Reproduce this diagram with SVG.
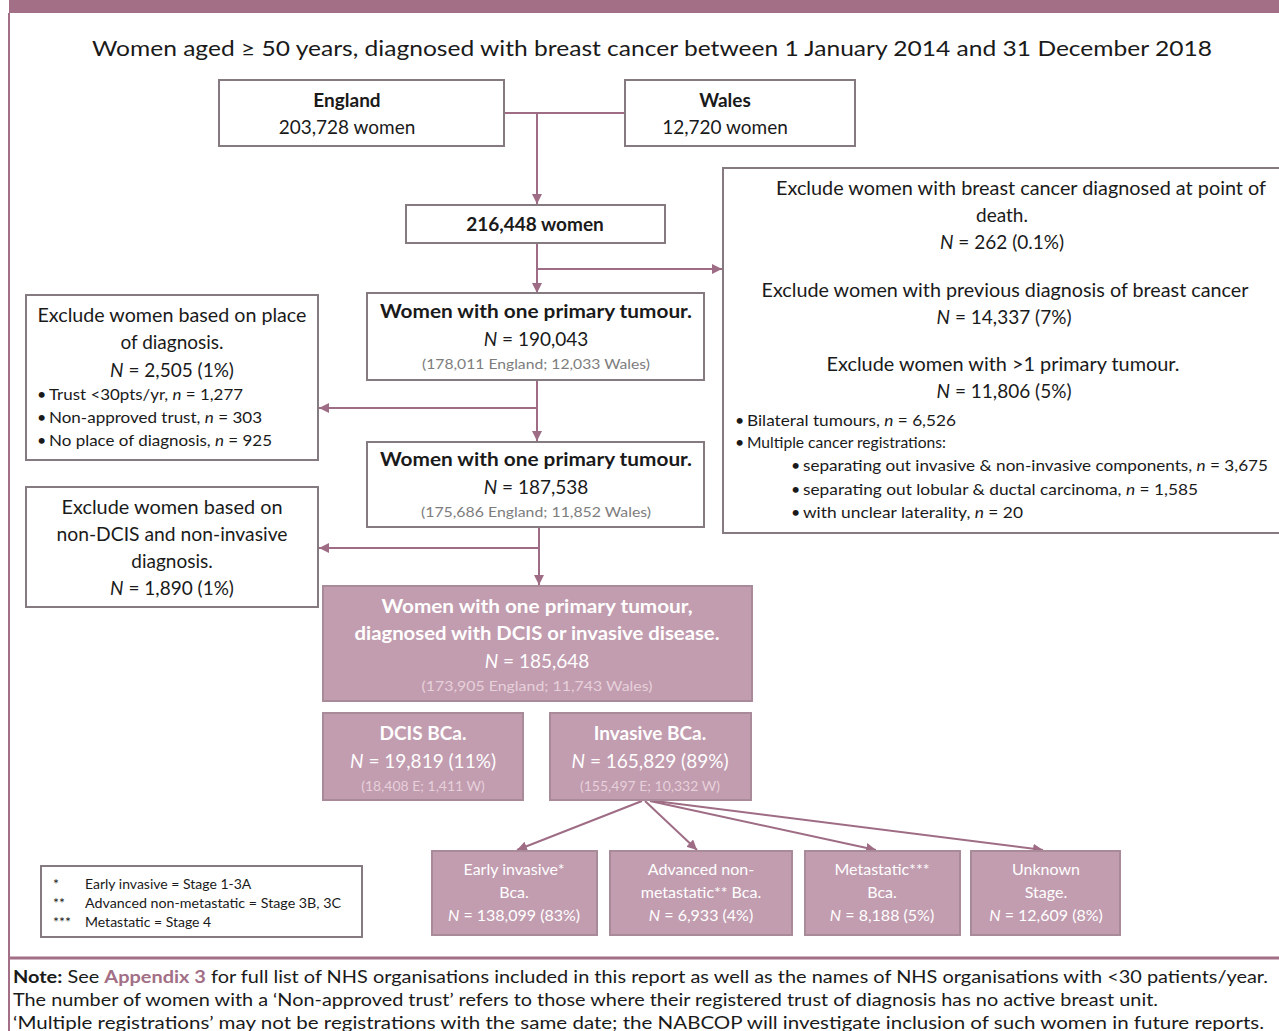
<svg xmlns="http://www.w3.org/2000/svg" width="1279" height="1031" viewBox="0 0 1279 1031">
<defs>
<marker id="ah" markerUnits="userSpaceOnUse" markerWidth="10" markerHeight="10" viewBox="0 0 10 10" refX="10" refY="5" orient="auto">
<path d="M0,0 L10,5 L0,10 Z" fill="#9E6C84"/>
</marker>
<style>
text{font-family:Lato,"Open Sans","Liberation Sans",sans-serif;fill:#1a1a1a}
.box{fill:#fff;stroke:#857a80;stroke-width:2}
.pbox{fill:#C29CAF;stroke:#A88A99;stroke-width:2}
.c{text-anchor:middle}
.t19{font-size:19px}
.b{font-weight:bold}
.g{fill:#7d7d7d;font-size:14px}
.w{fill:#fff}
.wg{fill:#E6D1DB;font-size:14px}
.s16{font-size:16px}
.s13{font-size:14px}
.i{font-style:italic}
.conn{stroke:#9E6C84;stroke-width:2;fill:none}
</style>
</defs>
<rect x="9" y="0" width="1270" height="13" fill="#A26F86"/>
<line x1="9" y1="13" x2="9" y2="1031" stroke="#A26F86" stroke-width="2"/>
<line x1="9" y1="958" x2="1279" y2="958" stroke="#A26F86" stroke-width="3"/>
<text x="652" y="56" class="c" font-size="21" textLength="1120" lengthAdjust="spacingAndGlyphs">Women aged ≥ 50 years, diagnosed with breast cancer between 1 January 2014 and 31 December 2018</text>

<g id="connectors">
<line class="conn" x1="504" y1="113" x2="625" y2="113"/>
<line class="conn" x1="537" y1="113" x2="537" y2="204" marker-end="url(#ah)"/>
<line class="conn" x1="537" y1="243" x2="537" y2="293" marker-end="url(#ah)"/>
<line class="conn" x1="537" y1="269" x2="722" y2="269" marker-end="url(#ah)"/>
<line class="conn" x1="537" y1="380" x2="537" y2="441" marker-end="url(#ah)"/>
<line class="conn" x1="537" y1="408" x2="319" y2="408" marker-end="url(#ah)"/>
<line class="conn" x1="539" y1="527" x2="539" y2="585" marker-end="url(#ah)"/>
<line class="conn" x1="539" y1="548" x2="319" y2="548" marker-end="url(#ah)"/>
<line class="conn" x1="642" y1="801" x2="517" y2="850" marker-end="url(#ah)"/>
<line class="conn" x1="645" y1="801" x2="697" y2="850" marker-end="url(#ah)"/>
<line class="conn" x1="650" y1="801" x2="876" y2="850" marker-end="url(#ah)"/>
<line class="conn" x1="655" y1="801" x2="1043" y2="850" marker-end="url(#ah)"/>
</g>

<g id="england">
<rect class="box" x="219" y="80" width="285" height="66"/>
<text x="347" y="107" class="c t19 b">England</text>
<text x="347" y="134" class="c t19">203,728 women</text>
</g>
<g id="wales">
<rect class="box" x="625" y="80" width="230" height="66"/>
<text x="725" y="107" class="c t19 b">Wales</text>
<text x="725" y="134" class="c t19">12,720 women</text>
</g>
<g id="total">
<rect class="box" x="406" y="205" width="259" height="38"/>
<text x="535" y="231" class="c t19 b">216,448 women</text>
</g>

<g id="exclude-right">
<rect class="box" x="723" y="168" width="570" height="365"/>
<text x="1021" y="195" class="c t19" textLength="490" lengthAdjust="spacingAndGlyphs">Exclude women with breast cancer diagnosed at point of</text>
<text x="1002" y="222" class="c t19">death.</text>
<text x="1002" y="249" class="c t19"><tspan class="i">N</tspan> = 262 (0.1%)</text>
<text x="1005" y="297" class="c t19" textLength="487" lengthAdjust="spacingAndGlyphs">Exclude women with previous diagnosis of breast cancer</text>
<text x="1004" y="324" class="c t19"><tspan class="i">N</tspan> = 14,337 (7%)</text>
<text x="1003" y="371" class="c t19" textLength="353" lengthAdjust="spacingAndGlyphs">Exclude women with &gt;1 primary tumour.</text>
<text x="1004" y="398" class="c t19"><tspan class="i">N</tspan> = 11,806 (5%)</text>
<text x="735" y="426" class="s16">•</text>
<text x="747" y="426" class="s16" textLength="209" lengthAdjust="spacingAndGlyphs">Bilateral tumours, <tspan class="i">n</tspan> = 6,526</text>
<text x="735" y="448" class="s16">•</text>
<text x="747" y="448" class="s16" textLength="199" lengthAdjust="spacingAndGlyphs">Multiple cancer registrations:</text>
<text x="791" y="471" class="s16">•</text>
<text x="803" y="471" class="s16" textLength="465" lengthAdjust="spacingAndGlyphs">separating out invasive &amp; non-invasive components, <tspan class="i">n</tspan> = 3,675</text>
<text x="791" y="495" class="s16">•</text>
<text x="803" y="495" class="s16" textLength="395" lengthAdjust="spacingAndGlyphs">separating out lobular &amp; ductal carcinoma, <tspan class="i">n</tspan> = 1,585</text>
<text x="791" y="518" class="s16">•</text>
<text x="803" y="518" class="s16" textLength="220" lengthAdjust="spacingAndGlyphs">with unclear laterality, <tspan class="i">n</tspan> = 20</text>
</g>

<g id="one-tumour-1">
<rect class="box" x="367" y="293" width="337" height="87"/>
<text x="536" y="318" class="c t19 b" textLength="312" lengthAdjust="spacingAndGlyphs">Women with one primary tumour.</text>
<text x="536" y="346" class="c t19"><tspan class="i">N</tspan> = 190,043</text>
<text x="536" y="369" class="c g" textLength="228" lengthAdjust="spacingAndGlyphs">(178,011 England; 12,033 Wales)</text>
</g>

<g id="exclude-place">
<rect class="box" x="26" y="295" width="292" height="165"/>
<text x="172" y="322" class="c t19" textLength="269" lengthAdjust="spacingAndGlyphs">Exclude women based on place</text>
<text x="172" y="349" class="c t19">of diagnosis.</text>
<text x="172" y="377" class="c t19"><tspan class="i">N</tspan> = 2,505 (1%)</text>
<text x="37" y="400" class="s16">•</text>
<text x="49" y="400" class="s16" textLength="194" lengthAdjust="spacingAndGlyphs">Trust &lt;30pts/yr, <tspan class="i">n</tspan> = 1,277</text>
<text x="37" y="423" class="s16">•</text>
<text x="49" y="423" class="s16" textLength="213" lengthAdjust="spacingAndGlyphs">Non-approved trust, <tspan class="i">n</tspan> = 303</text>
<text x="37" y="446" class="s16">•</text>
<text x="49" y="446" class="s16" textLength="223" lengthAdjust="spacingAndGlyphs">No place of diagnosis, <tspan class="i">n</tspan> = 925</text>
</g>

<g id="one-tumour-2">
<rect class="box" x="367" y="442" width="337" height="85"/>
<text x="536" y="466" class="c t19 b" textLength="312" lengthAdjust="spacingAndGlyphs">Women with one primary tumour.</text>
<text x="536" y="494" class="c t19"><tspan class="i">N</tspan> = 187,538</text>
<text x="536" y="517" class="c g" textLength="230" lengthAdjust="spacingAndGlyphs">(175,686 England; 11,852 Wales)</text>
</g>

<g id="exclude-dcis">
<rect class="box" x="26" y="487" width="292" height="120"/>
<text x="172" y="514" class="c t19" textLength="221" lengthAdjust="spacingAndGlyphs">Exclude women based on</text>
<text x="172" y="541" class="c t19" textLength="231" lengthAdjust="spacingAndGlyphs">non-DCIS and non-invasive</text>
<text x="172" y="568" class="c t19">diagnosis.</text>
<text x="172" y="595" class="c t19"><tspan class="i">N</tspan> = 1,890 (1%)</text>
</g>

<g id="dcis-or-invasive">
<rect class="pbox" x="323" y="586" width="429" height="115"/>
<text x="537" y="613" class="c t19 b w" textLength="311" lengthAdjust="spacingAndGlyphs">Women with one primary tumour,</text>
<text x="537" y="640" class="c t19 b w" textLength="365" lengthAdjust="spacingAndGlyphs">diagnosed with DCIS or invasive disease.</text>
<text x="537" y="668" class="c t19 w"><tspan class="i">N</tspan> = 185,648</text>
<text x="537" y="691" class="c wg" textLength="231" lengthAdjust="spacingAndGlyphs">(173,905 England; 11,743 Wales)</text>
</g>

<g id="dcis">
<rect class="pbox" x="323" y="713" width="200" height="87"/>
<text x="423" y="740" class="c t19 b w">DCIS BCa.</text>
<text x="423" y="768" class="c t19 w"><tspan class="i">N</tspan> = 19,819 (11%)</text>
<text x="423" y="791" class="c wg">(18,408 E; 1,411 W)</text>
</g>
<g id="invasive">
<rect class="pbox" x="550" y="713" width="201" height="87"/>
<text x="650" y="740" class="c t19 b w">Invasive BCa.</text>
<text x="650" y="768" class="c t19 w"><tspan class="i">N</tspan> = 165,829 (89%)</text>
<text x="650" y="791" class="c wg">(155,497 E; 10,332 W)</text>
</g>

<g id="early">
<rect class="pbox" x="432" y="851" width="165" height="84"/>
<text x="514" y="875" class="c s16 w">Early invasive*</text>
<text x="514" y="898" class="c s16 w">Bca.</text>
<text x="514" y="921" class="c s16 w"><tspan class="i">N</tspan> = 138,099 (83%)</text>
</g>
<g id="advanced">
<rect class="pbox" x="610" y="851" width="182" height="84"/>
<text x="701" y="875" class="c s16 w">Advanced non-</text>
<text x="701" y="898" class="c s16 w">metastatic** Bca.</text>
<text x="701" y="921" class="c s16 w"><tspan class="i">N</tspan> = 6,933 (4%)</text>
</g>
<g id="metastatic">
<rect class="pbox" x="805" y="851" width="155" height="84"/>
<text x="882" y="875" class="c s16 w">Metastatic***</text>
<text x="882" y="898" class="c s16 w">Bca.</text>
<text x="882" y="921" class="c s16 w"><tspan class="i">N</tspan> = 8,188 (5%)</text>
</g>
<g id="unknown">
<rect class="pbox" x="971" y="851" width="149" height="84"/>
<text x="1046" y="875" class="c s16 w">Unknown</text>
<text x="1046" y="898" class="c s16 w">Stage.</text>
<text x="1046" y="921" class="c s16 w"><tspan class="i">N</tspan> = 12,609 (8%)</text>
</g>

<g id="legend">
<rect class="box" x="41" y="866" width="321" height="71"/>
<text x="53" y="889" class="s13">*</text>
<text x="85" y="889" class="s13">Early invasive = Stage 1-3A</text>
<text x="53" y="908" class="s13">**</text>
<text x="85" y="908" class="s13" textLength="256" lengthAdjust="spacingAndGlyphs">Advanced non-metastatic = Stage 3B, 3C</text>
<text x="53" y="927" class="s13">***</text>
<text x="85" y="927" class="s13">Metastatic = Stage 4</text>
</g>

<g id="note">
<text x="13" y="983" font-size="16.5" textLength="1255" lengthAdjust="spacingAndGlyphs"><tspan font-weight="bold">Note:</tspan> See <tspan font-weight="bold" fill="#A26F86">Appendix 3</tspan> for full list of NHS organisations included in this report as well as the names of NHS organisations with &lt;30 patients/year.</text>
<text x="13" y="1006" font-size="16.5" textLength="1145" lengthAdjust="spacingAndGlyphs">The number of women with a ‘Non-approved trust’ refers to those where their registered trust of diagnosis has no active breast unit.</text>
<text x="13" y="1029" font-size="16.5" textLength="1251" lengthAdjust="spacingAndGlyphs">‘Multiple registrations’ may not be registrations with the same date; the NABCOP will investigate inclusion of such women in future reports.</text>
</g>
</svg>
